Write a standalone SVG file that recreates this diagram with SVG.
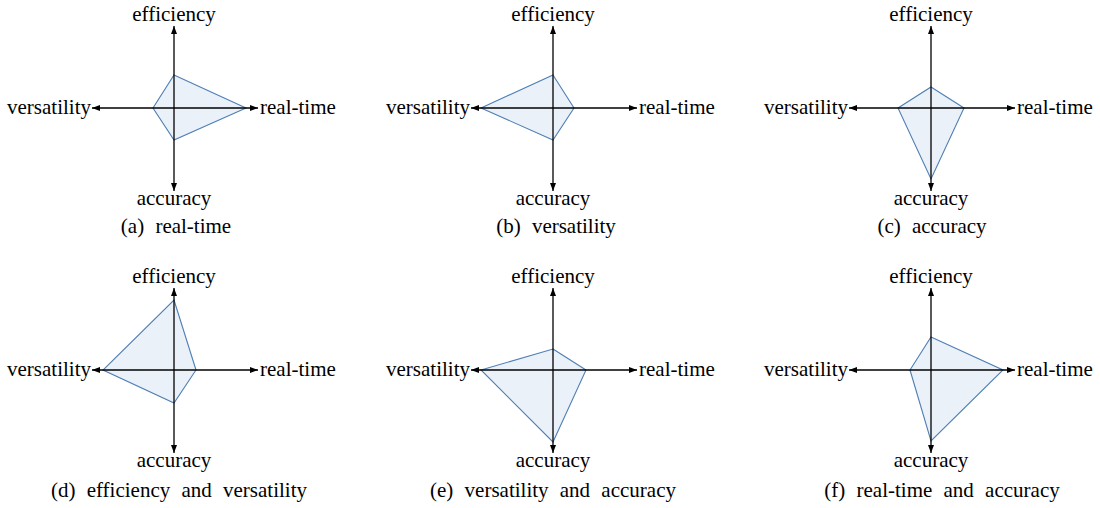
<svg xmlns="http://www.w3.org/2000/svg" width="1100" height="508" viewBox="0 0 1100 508">
<style>
text{font-family:'Liberation Serif','Times New Roman',serif;font-size:21px;fill:#000}
.m{text-anchor:middle}
.e{text-anchor:end}
.cap{text-anchor:middle;word-spacing:6px}
.shape{fill:#eaf1f9;stroke:#4f7fb5;stroke-width:1.1;stroke-linejoin:miter}
.ax{stroke:#000;stroke-width:1.3;fill:none;marker-end:url(#ah)}
</style>
<defs>
<marker id="ah" markerUnits="userSpaceOnUse" markerWidth="8" markerHeight="6" refX="8" refY="3" orient="auto">
<path d="M0,0 L8,3 L0,6 z" fill="#000"/>
</marker>
</defs>
<rect width="1100" height="508" fill="#fff"/>

<g id="panel-a">
<polygon class="shape" points="174,75 246,108 174,140 153,108"/>
<text class="m" x="174" y="21">efficiency</text>
<text class="m" x="174" y="205">accuracy</text>
<text class="e" x="91" y="114">versatility</text>
<text x="260" y="114">real-time</text>
<text class="cap" x="176" y="233">(a) real-time</text>
</g>
<g id="panel-b">
<polygon class="shape" points="553,75 574,108 553,140 481,108"/>
<text class="m" x="553" y="21">efficiency</text>
<text class="m" x="553" y="205">accuracy</text>
<text class="e" x="470" y="114">versatility</text>
<text x="639" y="114">real-time</text>
<text class="cap" x="556" y="233">(b) versatility</text>
</g>
<g id="panel-c">
<polygon class="shape" points="931,87 964,108 931,179 898,108"/>
<text class="m" x="931" y="21">efficiency</text>
<text class="m" x="931" y="205">accuracy</text>
<text class="e" x="848" y="114">versatility</text>
<text x="1017" y="114">real-time</text>
<text class="cap" x="932" y="233">(c) accuracy</text>
</g>
<g id="panel-d">
<polygon class="shape" points="174,300 196,370 174,403 103,370"/>
<text class="m" x="174" y="283">efficiency</text>
<text class="m" x="174" y="467">accuracy</text>
<text class="e" x="91" y="376">versatility</text>
<text x="260" y="376">real-time</text>
<text class="cap" x="179" y="497">(d) efficiency and versatility</text>
</g>
<g id="panel-e">
<polygon class="shape" points="553,349 586,370 553,442 481,370"/>
<text class="m" x="553" y="283">efficiency</text>
<text class="m" x="553" y="467">accuracy</text>
<text class="e" x="470" y="376">versatility</text>
<text x="639" y="376">real-time</text>
<text class="cap" x="553" y="497">(e) versatility and accuracy</text>
</g>
<g id="panel-f">
<polygon class="shape" points="931,337 1003,370 931,441 910,370"/>
<text class="m" x="931" y="283">efficiency</text>
<text class="m" x="931" y="467">accuracy</text>
<text class="e" x="848" y="376">versatility</text>
<text x="1017" y="376">real-time</text>
<text class="cap" x="942" y="497">(f) real-time and accuracy</text>
</g>

<g id="connectors">
<line class="ax" x1="174" y1="108" x2="174" y2="26"/>
<line class="ax" x1="174" y1="108" x2="174" y2="191"/>
<line class="ax" x1="174" y1="108" x2="92" y2="108"/>
<line class="ax" x1="174" y1="108" x2="258" y2="108"/>
<line class="ax" x1="553" y1="108" x2="553" y2="26"/>
<line class="ax" x1="553" y1="108" x2="553" y2="191"/>
<line class="ax" x1="553" y1="108" x2="471" y2="108"/>
<line class="ax" x1="553" y1="108" x2="637" y2="108"/>
<line class="ax" x1="931" y1="108" x2="931" y2="26"/>
<line class="ax" x1="931" y1="108" x2="931" y2="191"/>
<line class="ax" x1="931" y1="108" x2="849" y2="108"/>
<line class="ax" x1="931" y1="108" x2="1015" y2="108"/>
<line class="ax" x1="174" y1="370" x2="174" y2="288"/>
<line class="ax" x1="174" y1="370" x2="174" y2="453"/>
<line class="ax" x1="174" y1="370" x2="92" y2="370"/>
<line class="ax" x1="174" y1="370" x2="258" y2="370"/>
<line class="ax" x1="553" y1="370" x2="553" y2="288"/>
<line class="ax" x1="553" y1="370" x2="553" y2="453"/>
<line class="ax" x1="553" y1="370" x2="471" y2="370"/>
<line class="ax" x1="553" y1="370" x2="637" y2="370"/>
<line class="ax" x1="931" y1="370" x2="931" y2="288"/>
<line class="ax" x1="931" y1="370" x2="931" y2="453"/>
<line class="ax" x1="931" y1="370" x2="849" y2="370"/>
<line class="ax" x1="931" y1="370" x2="1015" y2="370"/>
</g>
</svg>
